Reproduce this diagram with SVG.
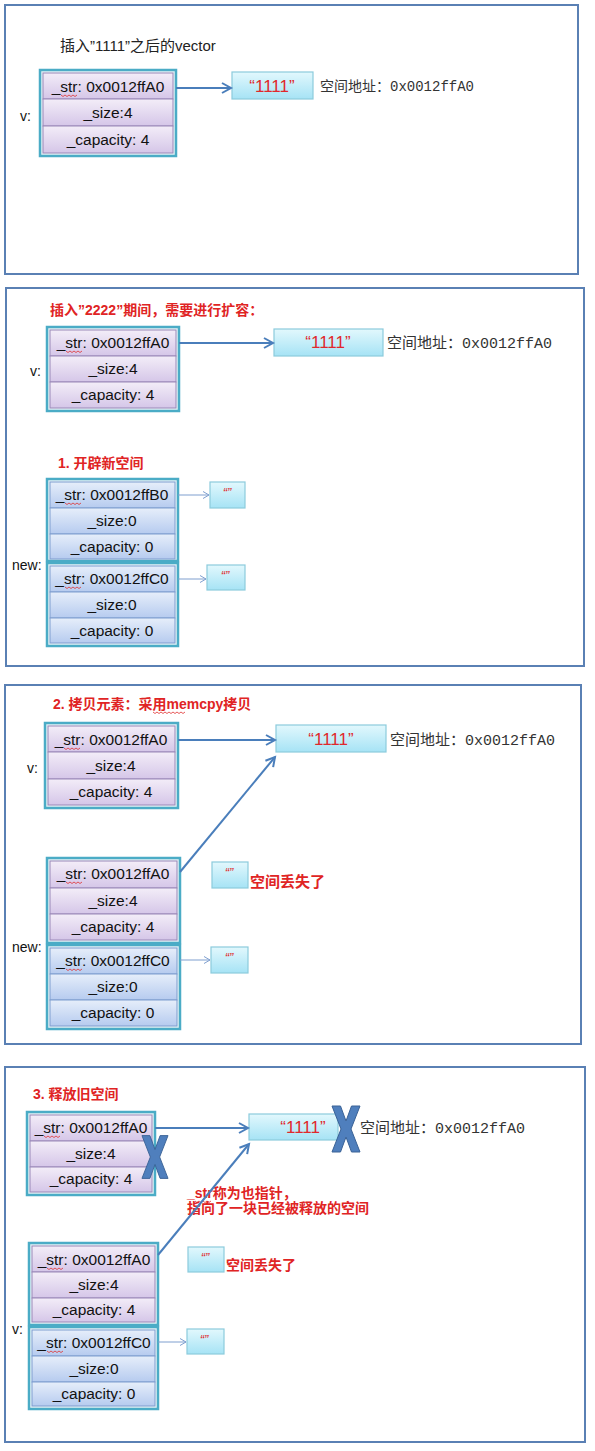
<svg xmlns="http://www.w3.org/2000/svg" width="595" height="1451" viewBox="0 0 595 1451">
<style>
.panel{fill:#fff;stroke:#5a80b4;stroke-width:2}
.outer{fill:#e6f2f6;stroke:#4bacc6;stroke-width:2.5}
.prow{fill:url(#gp);stroke:#9a88b8;stroke-width:1}
.brow{fill:url(#gb);stroke:#7e9dcf;stroke-width:1}
.sbox{fill:url(#gc);stroke:#8ccbdc;stroke-width:1.2}
.ft{font-family:"Liberation Sans","Noto Sans CJK SC",sans-serif;font-size:15.5px;fill:#111;text-anchor:middle}
.lbl{font-family:"Liberation Sans","Noto Sans CJK SC",sans-serif;font-size:14px;fill:#111}
.q{font-family:"Liberation Sans",sans-serif;font-size:17px;fill:#e0282c;text-anchor:middle}
.eq{font-family:"Liberation Sans",sans-serif;font-size:13px;font-style:italic;fill:#e0282c;text-anchor:middle}
.addr{font-family:"Liberation Mono","Noto Sans CJK SC",monospace;font-size:15px;fill:#333}
.red{font-family:"Liberation Sans","Noto Sans CJK SC",sans-serif;font-size:14px;font-weight:bold;fill:#e02424}
.thick{stroke:#4a7ebb;stroke-width:2;fill:none;marker-end:url(#ah)}
.thin{stroke:#7f9fcf;stroke-width:1;fill:none;marker-end:url(#at)}
.xs{fill:#4f7fbd;stroke:#3a6296;stroke-width:1}
.sq{fill:none;stroke:#e03030;stroke-width:0.8}
</style>
<defs>
<linearGradient id="gp" x1="0" y1="0" x2="0" y2="1"><stop offset="0" stop-color="#f3edf8"/><stop offset="1" stop-color="#d5c6e8"/></linearGradient>
<linearGradient id="gb" x1="0" y1="0" x2="0" y2="1"><stop offset="0" stop-color="#e6eefa"/><stop offset="1" stop-color="#b6cbef"/></linearGradient>
<linearGradient id="gc" x1="0" y1="0" x2="0" y2="1"><stop offset="0" stop-color="#e2f8fd"/><stop offset="1" stop-color="#a6e3f5"/></linearGradient>
<marker id="ah" markerUnits="userSpaceOnUse" markerWidth="14" markerHeight="14" refX="10" refY="6" orient="auto"><path d="M1,1 L10,6 L1,11" fill="none" stroke="#4a7ebb" stroke-width="2"/></marker>
<marker id="at" markerUnits="userSpaceOnUse" markerWidth="10" markerHeight="10" refX="7" refY="4" orient="auto"><path d="M1,0.5 L7,4 L1,7.5" fill="none" stroke="#7f9fcf" stroke-width="1"/></marker>
<path id="wv" class="sq" d="M0,0 l2,1.5 l2,-1.5 l2,1.5 l2,-1.5 l2,1.5 l2,-1.5 l2,1.5 l2,-1.5"/>
<polygon id="xx" class="xs" points="-14,-23 -5.5,-23 0,-8 5.5,-23 14,-23 5,0 14,23 5.5,23 0,8 -5.5,23 -14,23 -5,0"/>
</defs>

<!-- Panels -->
<g id="panels">
<rect class="panel" x="5" y="5" width="573" height="269"/>
<rect class="panel" x="6" y="288" width="578" height="378"/>
<rect class="panel" x="5" y="685" width="576" height="359"/>
<rect class="panel" x="5" y="1067" width="580" height="375"/>
</g>

<!-- Panel 1 -->
<g id="p1-title"><text class="lbl" x="60" y="51" style="font-size:15px;fill:#222">插入”1111”之后的vector</text></g>
<g id="p1-v">
<text class="lbl" x="20" y="121">v:</text>
<rect class="outer" x="40" y="70" width="136" height="86"/>
<rect class="prow" x="43" y="73" width="130" height="26"/>
<rect class="prow" x="43" y="99" width="130" height="27"/>
<rect class="prow" x="43" y="126" width="130" height="27"/>
<text class="ft" x="108" y="92">_str: 0x0012ffA0</text>
<use href="#wv" x="61" y="95"/>
<text class="ft" x="108" y="118">_size:4</text>
<text class="ft" x="108" y="145">_capacity: 4</text>
</g>
<g id="p1-s">
<rect class="sbox" x="232" y="72" width="81" height="27"/>
<text class="q" x="272" y="92">“1111”</text>
<text class="addr" x="320" y="91" style="font-size:14px">空间地址：0x0012ffA0</text>
</g>

<!-- Panel 2 -->
<g id="p2-title"><text class="red" x="50" y="315">插入”2222”期间，需要进行扩容：</text></g>
<g id="p2-v">
<text class="lbl" x="30" y="376">v:</text>
<rect class="outer" x="47" y="327" width="132" height="84"/>
<rect class="prow" x="50" y="330" width="126" height="26"/>
<rect class="prow" x="50" y="356" width="126" height="26"/>
<rect class="prow" x="50" y="382" width="126" height="26"/>
<text class="ft" x="113" y="348">_str: 0x0012ffA0</text>
<use href="#wv" x="66" y="351"/>
<text class="ft" x="113" y="374">_size:4</text>
<text class="ft" x="113" y="400">_capacity: 4</text>
</g>
<g id="p2-s">
<rect class="sbox" x="274" y="329" width="109" height="27"/>
<text class="q" x="328" y="348">“1111”</text>
<text class="addr" x="387" y="348">空间地址：0x0012ffA0</text>
</g>
<g id="p2-step"><text class="red" x="58" y="468">1. 开辟新空间</text></g>
<g id="p2-new">
<text class="lbl" x="12" y="570">new:</text>
<rect class="outer" x="47" y="479" width="131" height="82"/>
<rect class="brow" x="50" y="482" width="125" height="26"/>
<rect class="brow" x="50" y="508" width="125" height="26"/>
<rect class="brow" x="50" y="534" width="125" height="25"/>
<text class="ft" x="112" y="500">_str: 0x0012ffB0</text>
<use href="#wv" x="65" y="503"/>
<text class="ft" x="112" y="526">_size:0</text>
<text class="ft" x="112" y="552">_capacity: 0</text>
<rect class="outer" x="47" y="563" width="131" height="83"/>
<rect class="brow" x="50" y="566" width="125" height="26"/>
<rect class="brow" x="50" y="592" width="125" height="26"/>
<rect class="brow" x="50" y="618" width="125" height="25"/>
<text class="ft" x="112" y="584">_str: 0x0012ffC0</text>
<use href="#wv" x="65" y="587"/>
<text class="ft" x="112" y="610">_size:0</text>
<text class="ft" x="112" y="636">_capacity: 0</text>
</g>
<g id="p2-e1"><rect class="sbox" x="210" y="482" width="35" height="26"/><text class="eq" x="227" y="497">“”</text></g>
<g id="p2-e2"><rect class="sbox" x="207" y="565" width="38" height="25"/><text class="eq" x="225" y="580">“”</text></g>

<!-- Panel 3 -->
<g id="p3-title"><text class="red" x="53" y="709">2. 拷贝元素：采用memcpy拷贝</text><use href="#wv" x="153" y="712"/><use href="#wv" x="169" y="712"/></g>
<g id="p3-v">
<text class="lbl" x="27" y="773">v:</text>
<rect class="outer" x="45" y="723" width="133" height="85"/>
<rect class="prow" x="48" y="726" width="127" height="26"/>
<rect class="prow" x="48" y="752" width="127" height="27"/>
<rect class="prow" x="48" y="779" width="127" height="26"/>
<text class="ft" x="111" y="745">_str: 0x0012ffA0</text>
<use href="#wv" x="64" y="748"/>
<text class="ft" x="111" y="771">_size:4</text>
<text class="ft" x="111" y="797">_capacity: 4</text>
</g>
<g id="p3-s">
<rect class="sbox" x="276" y="725" width="110" height="27"/>
<text class="q" x="331" y="745">“1111”</text>
<text class="addr" x="390" y="745">空间地址：0x0012ffA0</text>
</g>
<g id="p3-new">
<text class="lbl" x="12" y="952">new:</text>
<rect class="outer" x="47" y="858" width="133" height="85"/>
<rect class="prow" x="50" y="861" width="127" height="27"/>
<rect class="prow" x="50" y="888" width="127" height="26"/>
<rect class="prow" x="50" y="914" width="127" height="26"/>
<text class="ft" x="113" y="879">_str: 0x0012ffA0</text>
<use href="#wv" x="66" y="882"/>
<text class="ft" x="113" y="906">_size:4</text>
<text class="ft" x="113" y="932">_capacity: 4</text>
<rect class="outer" x="47" y="945" width="133" height="84"/>
<rect class="brow" x="50" y="948" width="127" height="26"/>
<rect class="brow" x="50" y="974" width="127" height="26"/>
<rect class="brow" x="50" y="1000" width="127" height="26"/>
<text class="ft" x="113" y="966">_str: 0x0012ffC0</text>
<use href="#wv" x="66" y="969"/>
<text class="ft" x="113" y="992">_size:0</text>
<text class="ft" x="113" y="1018">_capacity: 0</text>
</g>
<g id="p3-e1"><rect class="sbox" x="212" y="862" width="36" height="26"/><text class="eq" x="229" y="877">“”</text><text class="red" x="250" y="887" style="font-size:15px">空间丢失了</text></g>
<g id="p3-e2"><rect class="sbox" x="211" y="947" width="37" height="26"/><text class="eq" x="229" y="962">“”</text></g>

<!-- Panel 4 -->
<g id="p4-title"><text class="red" x="33" y="1099">3. 释放旧空间</text></g>
<g id="p4-old">
<rect class="outer" x="27" y="1112" width="128" height="83"/>
<rect class="prow" x="30" y="1115" width="122" height="26"/>
<rect class="prow" x="30" y="1141" width="122" height="26"/>
<rect class="prow" x="30" y="1167" width="122" height="25"/>
<text class="ft" x="91" y="1133">_str: 0x0012ffA0</text>
<use href="#wv" x="44" y="1136"/>
<text class="ft" x="91" y="1159">_size:4</text>
<text class="ft" x="91" y="1184">_capacity: 4</text>
</g>
<g id="p4-s">
<rect class="sbox" x="249" y="1114" width="89" height="26"/>
<text class="q" x="303" y="1133">“1111”</text>
<text class="addr" x="360" y="1133">空间地址：0x0012ffA0</text>
</g>
<g id="p4-note">
<text class="red" x="187" y="1198">_str称为也指针，</text>
<use href="#wv" x="195" y="1201"/>
<text class="red" x="187" y="1213">指向了一块已经被释放的空间</text>
</g>
<g id="p4-new">
<text class="lbl" x="12" y="1334">v:</text>
<rect class="outer" x="29" y="1243" width="129" height="82"/>
<rect class="prow" x="32" y="1246" width="123" height="26"/>
<rect class="prow" x="32" y="1272" width="123" height="26"/>
<rect class="prow" x="32" y="1298" width="123" height="24"/>
<text class="ft" x="94" y="1265">_str: 0x0012ffA0</text>
<use href="#wv" x="47" y="1268"/>
<text class="ft" x="94" y="1290">_size:4</text>
<text class="ft" x="94" y="1315">_capacity: 4</text>
<rect class="outer" x="29" y="1327" width="129" height="82"/>
<rect class="brow" x="32" y="1330" width="123" height="26"/>
<rect class="brow" x="32" y="1356" width="123" height="26"/>
<rect class="brow" x="32" y="1382" width="123" height="24"/>
<text class="ft" x="94" y="1348">_str: 0x0012ffC0</text>
<use href="#wv" x="47" y="1351"/>
<text class="ft" x="94" y="1374">_size:0</text>
<text class="ft" x="94" y="1399">_capacity: 0</text>
</g>
<g id="p4-e1"><rect class="sbox" x="188" y="1247" width="36" height="25"/><text class="eq" x="205" y="1262">“”</text><text class="red" x="226" y="1270">空间丢失了</text></g>
<g id="p4-e2"><rect class="sbox" x="187" y="1329" width="37" height="25"/><text class="eq" x="204" y="1344">“”</text></g>

<!-- Connectors -->
<g id="connectors">
<line class="thick" x1="176" y1="88" x2="231" y2="88"/>
<line class="thick" x1="179" y1="343" x2="273" y2="343"/>
<line class="thin" x1="178" y1="495" x2="209" y2="495"/>
<line class="thin" x1="178" y1="579" x2="206" y2="579"/>
<line class="thick" x1="178" y1="740" x2="275" y2="740"/>
<line class="thick" x1="180" y1="872" x2="275" y2="757"/>
<line class="thin" x1="180" y1="960" x2="210" y2="960"/>
<line class="thick" x1="155" y1="1128" x2="248" y2="1128"/>
<line class="thick" x1="158" y1="1255" x2="249" y2="1144"/>
<line class="thin" x1="158" y1="1342" x2="186" y2="1342"/>
</g>

<!-- Crosses -->
<g id="cross-1"><use href="#xx" transform="translate(346,1129)"/></g>
<g id="cross-2"><use href="#xx" transform="translate(155,1157) scale(0.93)"/></g>
</svg>
